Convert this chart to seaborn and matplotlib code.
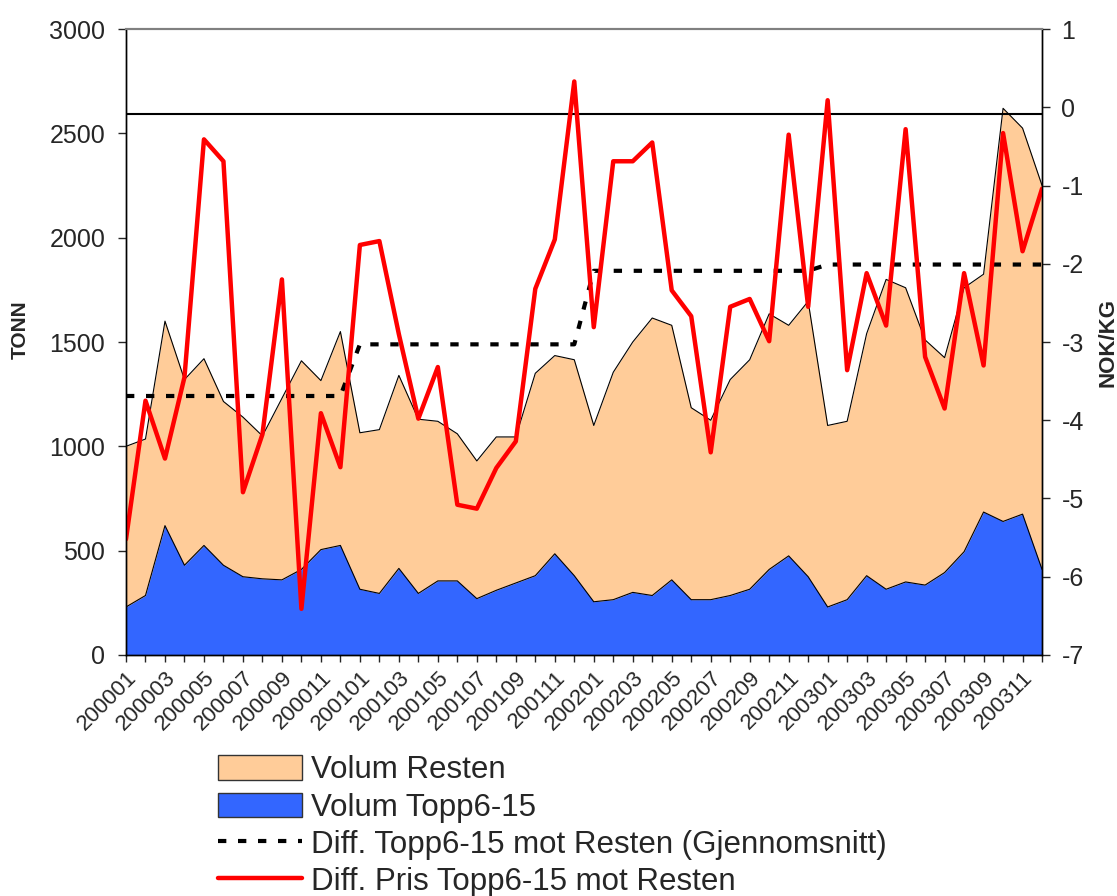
import numpy as np
import pandas as pd
import seaborn as sns
import matplotlib.pyplot as plt
from matplotlib.transforms import ScaledTranslation

# Month labels 200001 .. 200312
months = [f"{y}{m:02d}" for y in range(2000, 2004) for m in range(1, 13)]

# Total volume (top of the stacked area), TONN
volum_total = [1000, 1035, 1600, 1320, 1420, 1215, 1140, 1050, 1230, 1410, 1315, 1550,
               1065, 1080, 1340, 1130, 1120, 1060, 930, 1045, 1045, 1350, 1435, 1415,
               1100, 1355, 1500, 1615, 1580, 1185, 1125, 1320, 1415, 1635, 1580, 1695,
               1100, 1120, 1540, 1800, 1760, 1510, 1425, 1760, 1825, 2620, 2525, 2250]

# Volum Topp6-15, TONN
volum_topp = [230, 285, 620, 430, 525, 430, 375, 365, 360, 410, 505, 525,
              315, 295, 415, 295, 355, 355, 270, 310, 345, 380, 485, 380,
              255, 265, 300, 285, 360, 265, 265, 285, 315, 410, 475, 375,
              230, 265, 380, 315, 350, 335, 395, 495, 685, 640, 675, 410]

# Diff. Pris Topp6-15 mot Resten, NOK/KG
diff_pris = [-5.52, -3.75, -4.49, -3.45, -0.41, -0.69, -4.92, -4.18, -2.20, -6.41, -3.91, -4.60,
             -1.76, -1.71, -2.90, -3.98, -3.32, -5.08, -5.13, -4.61, -4.27, -2.32, -1.69, 0.33,
             -2.81, -0.69, -0.69, -0.45, -2.34, -2.67, -4.41, -2.55, -2.45, -2.99, -0.35, -2.55,
             0.09, -3.36, -2.12, -2.79, -0.28, -3.19, -3.85, -2.12, -3.30, -0.33, -1.84, -1.04]

# Diff. Topp6-15 mot Resten (Gjennomsnitt), yearly average, NOK/KG
diff_snitt = [-3.69] * 12 + [-3.03] * 12 + [-2.09] * 12 + [-2.01] * 12

df = pd.DataFrame({
    "idx": np.arange(len(months)),
    "month": months,
    "total": volum_total,
    "topp": volum_topp,
    "pris": diff_pris,
    "snitt": diff_snitt,
})

sns.set_theme(style="white")
plt.rcParams['font.family'] = ['Liberation Sans', 'DejaVu Sans']
plt.rcParams['axes.unicode_minus'] = False

fig = plt.figure(figsize=(11.17, 8.96), dpi=100)
ax = fig.add_axes([0.1128, 0.269, 0.8201, 0.6986])

peach = "#FFCC99"
blue = "#3366FF"

# stacked areas
ax.fill_between(df["idx"], df["topp"], df["total"], color=peach, linewidth=0)
ax.fill_between(df["idx"], 0, df["topp"], color=blue, linewidth=0)
ax.plot(df["idx"], df["total"], color="black", linewidth=0.8)
ax.plot(df["idx"], df["topp"], color="black", linewidth=0.8)
ax.axhline(2593, color="black", linewidth=1.5)

ax.set_xlim(0, len(months) - 1)
ax.set_ylim(0, 3000)
ax.set_yticks(range(0, 3001, 500))
ax.set_xticks(df["idx"])
ax.set_xticklabels([m if i % 2 == 0 else "" for i, m in enumerate(months)],
                   rotation=45, ha="right", va="top", rotation_mode="anchor", fontsize=16)
shift = ScaledTranslation(-0.10, -0.10, fig.dpi_scale_trans)
for lbl in ax.get_xticklabels():
    lbl.set_transform(lbl.get_transform() + shift)
ax.tick_params(axis="y", labelsize=18, direction="out", length=6, width=1, left=True, pad=9)
ax.tick_params(axis="x", direction="out", length=5, width=1, bottom=True, pad=4)
ax.set_ylabel("TONN", fontsize=15, fontweight="bold")
ax.yaxis.set_label_coords(-0.105, 0.52)

ax2 = ax.twinx()
sns.lineplot(data=df, x="idx", y="snitt", ax=ax2, color="black", linewidth=3,
             linestyle=(0, (2.0, 2.8)))
sns.lineplot(data=df, x="idx", y="pris", ax=ax2, color="red", linewidth=3.2)
ax2.set_ylim(-7, 1)
ax2.set_yticks(range(-7, 2))
ax2.tick_params(axis="y", labelsize=18, direction="out", length=6, width=1, right=True, pad=8)
ax2.set_ylabel("NOK/KG", fontsize=16, fontweight="bold", labelpad=10)
ax2.set_xlabel("")
ax.set_xlabel("")

for a in (ax, ax2):
    for side in ("left", "right", "bottom"):
        a.spines[side].set_color("black")
        a.spines[side].set_linewidth(1)
    a.spines["top"].set_color("#808080")
    a.spines["top"].set_linewidth(1.5)

handles = [
    plt.Rectangle((0, 0), 1, 1, facecolor=peach, edgecolor="#333333", linewidth=1),
    plt.Rectangle((0, 0), 1, 1, facecolor=blue, edgecolor="#333333", linewidth=1),
    plt.Line2D([], [], color="black", linewidth=3, linestyle=(0, (2.0, 2.8))),
    plt.Line2D([], [], color="red", linewidth=3.2),
]
labels = ["Volum Resten", "Volum Topp6-15",
          "Diff. Topp6-15 mot Resten (Gjennomsnitt)", "Diff. Pris Topp6-15 mot Resten"]
fig.legend(handles, labels, loc="upper left", bbox_to_anchor=(0.195, 0.157),
           frameon=False, fontsize=22.5, handlelength=2.7, handleheight=0.82,
           handletextpad=0.29, labelspacing=0.23, borderpad=0, borderaxespad=0)

fig.savefig("out.png", dpi=100)
